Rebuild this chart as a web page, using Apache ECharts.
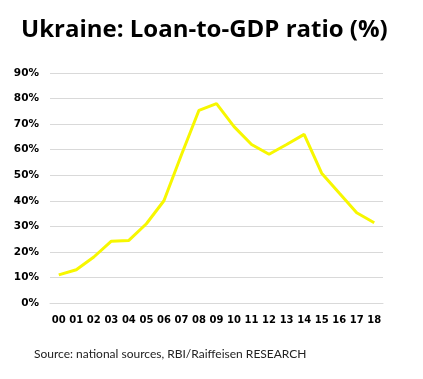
<!DOCTYPE html>
<html><head><meta charset="utf-8">
<script src="https://cdn.jsdelivr.net/npm/echarts@6/dist/echarts.min.js"></script>
<style>html,body{margin:0;padding:0;background:#fff}#c{width:423px;height:379px}</style>
</head><body><div id="c"></div>
<script>
const years = ['00','01','02','03','04','05','06','07','08','09','10','11','12','13','14','15','16','17','18'];
const loanToGdp = [11,13,18,24.2,24.5,31,40,58,75.4,78,69,62,58.2,62,66,50.8,43,35.3,31.4];
const yTicks = [0,10,20,30,40,50,60,70,80,90];

const chart = echarts.init(document.getElementById('c'));
chart.setOption({
  animation:false,
  title:[{text:'Ukraine: Loan-to-GDP ratio (%)',left:16,top:13,
    textStyle:{fontFamily:'Open Sans',fontWeight:'bold',fontSize:24,color:'#000'}},
    {text:'Source: national sources, RBI/Raiffeisen RESEARCH',left:29,top:343,
    textStyle:{fontFamily:'Lato',fontWeight:'normal',fontSize:12,color:'#222'}}],
  grid:{left:50,right:40,top:73,bottom:76},
  xAxis:{type:'category',data:years,boundaryGap:true,
    axisLine:{show:true,lineStyle:{color:'#d9d9d9'}},axisTick:{show:false},
    axisLabel:{interval:0,fontFamily:'DejaVu Sans',fontWeight:'bold',fontSize:10,color:'#000',margin:12}},
  yAxis:{type:'value',min:0,max:90,interval:10,
    axisLine:{show:false},axisTick:{show:false},
    splitLine:{lineStyle:{color:'#d9d9d9'}},
    axisLabel:{formatter:v=>yTicks.includes(v)?v+'%':'',fontFamily:'DejaVu Sans',fontWeight:'bold',fontSize:10.5,color:'#000',margin:11}},
  series:[{type:'line',data:loanToGdp,symbol:'none',lineStyle:{color:'#f7f700',width:3}}]
});
</script></body></html>
